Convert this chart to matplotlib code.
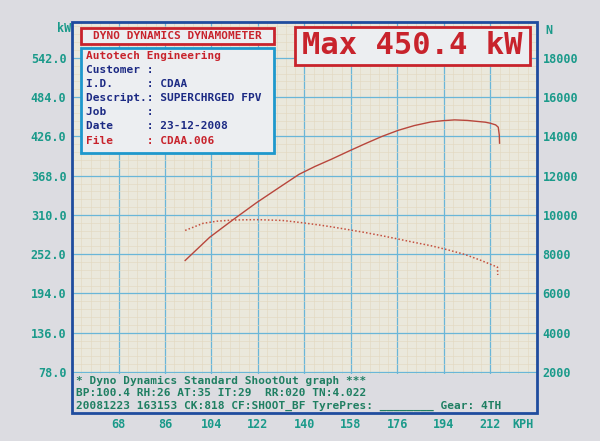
import matplotlib
matplotlib.use('Agg')
import matplotlib.pyplot as plt
import matplotlib.transforms as mtransforms
from matplotlib.patches import Rectangle
import numpy as np

# 数据 (读自图片)
speed_power = [93.8, 103.3, 112.2, 121.4, 130.2, 137.9, 144.0, 150.6, 157.0, 163.6, 170.0, 176.3, 182.5, 189.0, 193.5, 198.1, 203.0, 207.0, 210.0, 212.0, 214.0, 215.0, 215.4, 215.5]
power_kw = [242.7, 277.0, 302.5, 328.0, 350.5, 370.0, 381.5, 392.6, 404.0, 415.4, 426.0, 435.0, 442.0, 447.4, 449.2, 450.4, 449.6, 448.1, 447.0, 445.4, 443.0, 439.6, 428.0, 416.0]

speed_force = [93.8, 100.7, 106.0, 112.2, 121.4, 131.4, 138.0, 145.6, 150.6, 157.0, 163.6, 170.0, 176.3, 182.5, 189.0, 195.5, 202.0, 208.0, 214.7, 214.8]
force_n = [9210, 9570, 9680, 9740, 9760, 9720, 9620, 9490, 9390, 9250, 9100, 8940, 8770, 8600, 8430, 8220, 7990, 7700, 7340, 6940]

kw_ticks = [78.0, 136.0, 194.0, 252.0, 310.0, 368.0, 426.0, 484.0, 542.0]
n_ticks = [2000, 4000, 6000, 8000, 10000, 12000, 14000, 16000, 18000]
kph_ticks = [68, 86, 104, 122, 140, 158, 176, 194, 212]

info_lines = ["Customer :", "I.D.     : CDAA", "Descript.: SUPERCHRGED FPV",
              "Job      :", "Date     : 23-12-2008"]
footer_lines = ["* Dyno Dynamics Standard ShootOut graph ***",
                "BP:100.4 RH:26 AT:35 IT:29  RR:020 TN:4.022",
                "20081223 163153 CK:818 CF:SHOOT_BF TyrePres: ________ Gear: 4TH"]

# 颜色
paper = '#dcdce1'
plot_bg = '#eae8dc'
red = '#c8232c'
navy = '#1c2a84'
teal = '#1a9a8a'
green = '#1f7f62'
frame_blue = '#1f4c9e'
grid_blue = '#6ab6d8'
minor_tan = '#e2d7bf'

W, H = 600, 441
def px(x, y):
    return x / W, 1 - y / H

mono = 'DejaVu Sans Mono'

fig = plt.figure(figsize=(6, 4.41), dpi=100, facecolor=paper)

# 主坐标轴 (kW)
l, b = px(72, 374)
r, t = px(537, 22)
ax = fig.add_axes([l, b, r - l, t - b])
ax.set_facecolor(plot_bg)
ax.set_xlim(50, 230)
ax.set_ylim(75, 595)
ax.set_xticks(np.arange(50, 231, 18))
ax.set_xticks(np.arange(50, 230.1, 3.6), minor=True)
ax.set_yticks(kw_ticks)
ax.set_yticks(np.arange(75 + 3, 595, 11.6), minor=True)
ax.grid(which='minor', color=minor_tan, lw=0.4)
ax.grid(which='major', color=grid_blue, lw=0.9)
ax.set_axisbelow(True)
ax.tick_params(which='both', length=0, labelbottom=False)
ax.tick_params(axis='y', pad=4, labelcolor=teal, labelsize=8.5)
ax.set_yticklabels([f'{v:.1f}' for v in kw_ticks], family=mono, weight='bold')
for s in ax.spines.values():
    s.set_visible(False)

ax.plot(speed_power, power_kw, color='#b8463c', lw=1.0, zorder=3)

# 右侧坐标轴 (N)
ax2 = ax.twinx()
ax2.set_ylim(2000 + (75 - 78) / 58 * 2000, 2000 + (595 - 78) / 58 * 2000)
ax2.set_yticks(n_ticks)
ax2.set_yticklabels([str(v) for v in n_ticks], family=mono, weight='bold')
ax2.tick_params(length=0, pad=4, labelcolor=teal, labelsize=8.5)
for s in ax2.spines.values():
    s.set_visible(False)
ax2.plot(speed_force, force_n, color='#c4503f', lw=1.1, linestyle=(0, (1, 1.4)), zorder=3)

# 外框
x0, y0 = px(72, 413)
x1, y1 = px(537, 22)
fig.add_artist(Rectangle((x0, y0), x1 - x0, y1 - y0, transform=fig.transFigure,
                         fill=False, ec=frame_blue, lw=2, zorder=4))

# x 轴标签
trans = mtransforms.blended_transform_factory(ax.transData, fig.transFigure)
for v in kph_ticks:
    ax.text(v, px(0, 424)[1], str(v), transform=trans, ha='center', va='center',
            color=teal, fontsize=8.5, family=mono, weight='bold', clip_on=False)
fig.text(*px(523, 424), 'KPH', ha='center', va='center', color=teal,
         fontsize=8.5, family=mono, weight='bold')
fig.text(*px(71, 28), 'kW', ha='right', va='center', color=teal,
         fontsize=8.5, family=mono, weight='bold')
fig.text(*px(549, 31), 'N', ha='center', va='center', color=teal,
         fontsize=8.5, family=mono, weight='bold')

# 标题框
def box(xa, ya, xb, yb, ec, lw=2):
    p, q = px(xa, yb)
    p2, q2 = px(xb, ya)
    fig.add_artist(Rectangle((p, q), p2 - p, q2 - q, transform=fig.transFigure,
                             fc='#eceef1', ec=ec, lw=lw, zorder=5))

box(81, 28, 274, 44, red)
fig.text(*px(177, 36), 'DYNO DYNAMICS DYNAMOMETER', ha='center', va='center',
         color=red, fontsize=8, family=mono, weight='bold', zorder=6)

box(81, 48, 274, 153, '#1e98cc')
fig.text(*px(86, 56), 'Autotech Engineering', ha='left', va='center',
         color=red, fontsize=8, family=mono, weight='bold', zorder=6)
for i, line in enumerate(info_lines):
    fig.text(*px(86, 70 + i * 14), line, ha='left', va='center',
             color=navy, fontsize=8, family=mono, weight='bold', zorder=6)
fig.text(*px(86, 141), 'File     : CDAA.006', ha='left', va='center',
         color=red, fontsize=8, family=mono, weight='bold', zorder=6)

box(295, 27, 530, 65, red)
fig.text(*px(412, 46), f'Max {max(power_kw):.1f} kW', ha='center', va='center',
         color=red, fontsize=22, family=mono, weight='bold', zorder=6)

# 底部说明
for i, line in enumerate(footer_lines):
    fig.text(*px(76, 381 + i * 12.5), line, ha='left', va='center',
             color=green, fontsize=8, family=mono, weight='bold')

fig.savefig('out.png', dpi=100, facecolor=paper)
